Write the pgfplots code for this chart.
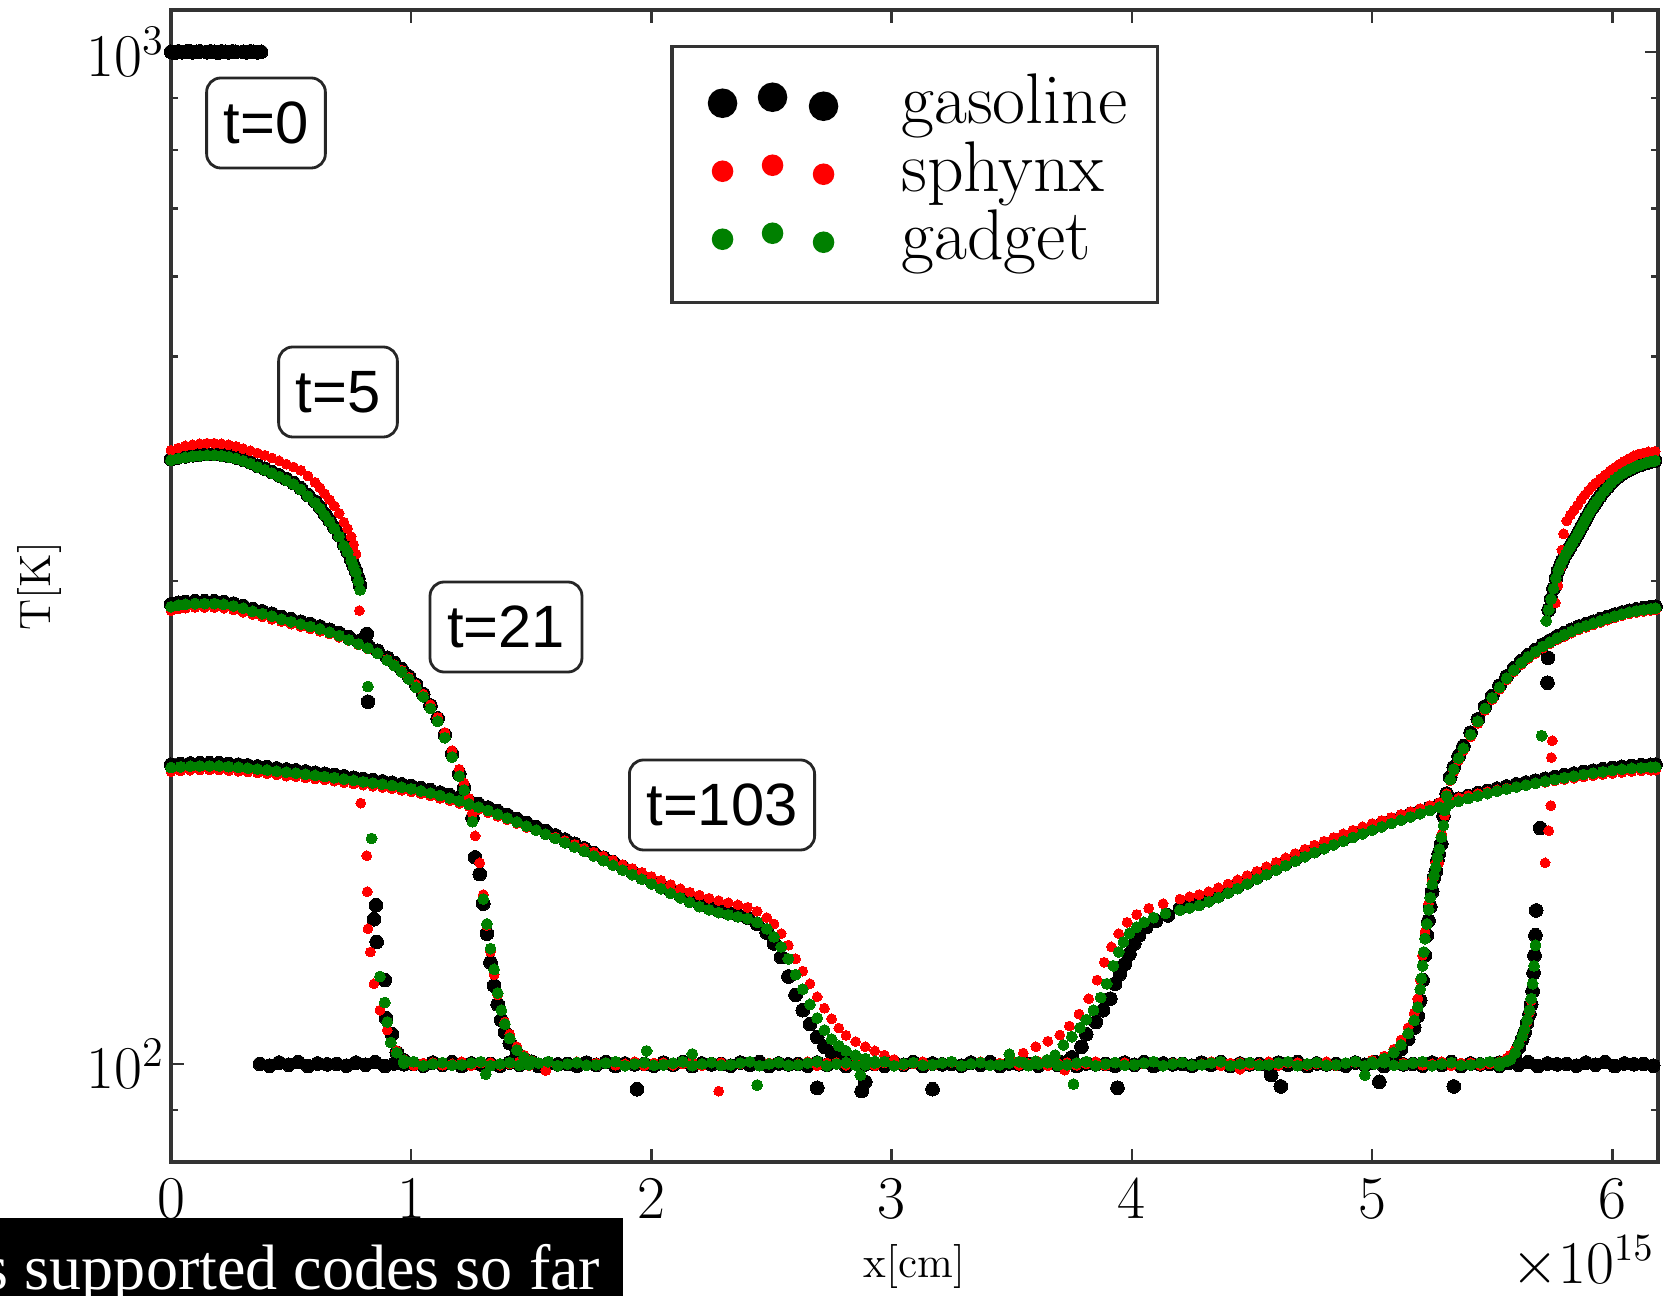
\documentclass[border=0pt]{standalone}
\usepackage{fontspec}
\newfontfamily\lsans{Liberation Sans}
\newfontfamily\lserif{Liberation Serif}
\usepackage{pgfplots}
\pgfplotsset{compat=1.18}
\usepackage{pgfplotstable}

\definecolor{mplgreen}{HTML}{008000}
\definecolor{mplred}{HTML}{FF0000}

\pgfplotsset{
  gasstyle/.style={only marks, mark=*, mark size=1.95pt, color=black, mark options={line width=0pt}},
  sphstyle/.style={only marks, mark=*, mark size=1.4pt, color=mplred, mark options={line width=0pt}},
  gadstyle/.style={only marks, mark=*, mark size=1.55pt, color=mplgreen, mark options={line width=0pt}},
}

% t=5, left front
\pgfplotstableread{
x gas sph gad
0.00 396.0 404.0 395.0
0.03 397.5 406.0 396.5
0.06 398.5 408.0 397.5
0.09 399.5 409.0 398.5
0.12 400.0 410.0 399.0
0.15 400.5 410.5 399.5
0.18 400.5 410.5 399.5
0.21 400.0 410.0 399.0
0.24 399.0 409.0 398.0
0.27 397.5 407.5 396.5
0.30 395.5 405.5 394.5
0.33 393.0 403.5 392.0
0.36 390.0 401.5 389.0
0.39 387.5 399.5 386.5
0.42 384.5 397.0 383.5
0.45 381.5 394.5 380.5
0.48 378.5 391.5 377.5
0.51 375.0 389.0 374.0
0.54 370.5 386.0 369.5
0.57 365.0 381.0 364.0
0.60 359.5 375.5 358.5
0.62 355.0 371.0 354.0
0.64 349.5 366.0 348.5
0.66 344.5 361.0 343.5
0.68 339.0 356.0 338.0
0.70 333.0 350.0 332.0
0.72 326.0 343.0 325.0
0.735 321.0 338.0 320.5
0.75 315.0 332.0 314.5
0.76 311.0 326.0 310.0
0.77 307.0 319.0 306.0
0.78 302.0 nan 300.0
0.787 297.0 nan 294.0
0.784 nan 280.5 nan
0.79 nan 181.0 nan
0.815 266.0 160.6 nan
0.817 nan 148.0 nan
0.82 228.0 136.0 236.0
0.83 nan 129.0 nan
0.835 nan nan 167.0
0.845 139.0 120.0 nan
0.853 143.5 nan nan
0.856 132.0 nan nan
0.87 nan 113.0 122.0
0.89 121.0 nan 115.0
0.895 111.0 nan nan
0.90 nan 108.0 110.0
0.915 nan nan 105.0
0.92 107.0 nan nan
0.94 102.6 103.0 102.6
0.97 100.8 101.0 100.8
}\tfiveL

% t=21, left front
\pgfplotstableread{
x gas sph gad
0.00 284.5 280.5 283.0
0.03 285.5 281.5 284.0
0.06 286.0 282.0 284.5
0.10 286.5 282.5 285.0
0.14 286.5 282.5 285.0
0.18 286.5 282.5 285.0
0.22 286.0 282.0 284.5
0.26 285.0 281.0 283.5
0.30 283.5 279.5 282.0
0.34 281.5 278.0 280.0
0.38 280.0 276.5 278.5
0.42 278.5 275.0 277.0
0.46 276.5 273.5 275.0
0.50 275.0 272.0 273.5
0.54 273.5 270.5 272.0
0.58 272.0 269.0 270.5
0.62 270.5 267.5 269.0
0.66 268.5 266.0 267.0
0.70 266.5 264.0 265.0
0.74 264.0 262.0 262.5
0.78 261.5 259.5 260.0
0.82 259.0 257.0 257.5
0.86 256.0 254.5 254.5
0.90 252.0 251.0 250.5
0.93 249.0 248.0 247.5
0.96 245.5 245.0 244.0
0.99 241.5 241.0 240.0
1.02 237.0 237.0 235.5
1.05 232.0 232.0 230.5
1.08 226.0 226.5 224.5
1.11 219.5 220.0 218.0
1.14 211.5 212.5 210.0
1.17 202.5 204.0 201.0
1.20 193.5 195.5 192.5
1.22 187.5 189.5 186.5
1.24 181.5 183.0 180.5
1.255 175.0 177.0 173.5
1.266 160.0 168.0 nan
1.285 154.0 158.0 nan
1.30 144.0 147.0 145.5
1.315 134.5 137.0 137.5
1.33 126.0 129.0 130.0
1.345 119.5 122.5 124.0
1.36 114.5 117.0 117.5
1.375 110.5 113.0 113.0
1.39 107.5 110.0 109.5
1.41 104.8 107.0 106.0
1.44 102.5 104.0 103.2
1.47 101.2 102.0 101.5
1.50 100.5 100.8 100.6
}\ttwentyoneL

% t=103, left front
\pgfplotstableread{
x gas sph gad
0.00 197.5 194.5 196.3
0.04 197.8 194.8 196.6
0.08 198.1 195.1 196.9
0.12 198.2 195.2 197.0
0.16 198.2 195.2 197.0
0.20 198.2 195.2 197.0
0.24 197.9 194.9 196.7
0.28 197.6 194.6 196.4
0.32 197.2 194.3 196.0
0.36 196.8 193.9 195.6
0.40 196.4 193.5 195.2
0.44 195.9 193.0 194.7
0.48 195.4 192.5 194.2
0.52 195.0 192.2 193.8
0.56 194.5 191.7 193.3
0.60 194.0 191.2 192.8
0.64 193.5 190.8 192.3
0.68 193.0 190.3 191.8
0.72 192.4 189.7 191.2
0.76 191.8 189.1 190.6
0.80 191.2 188.6 190.0
0.84 190.7 188.1 189.5
0.88 190.2 187.6 189.0
0.92 189.6 187.0 188.4
0.96 188.9 186.4 187.7
1.00 188.2 185.7 187.0
1.04 187.3 184.9 186.1
1.08 186.4 184.0 185.2
1.12 185.4 183.0 184.2
1.16 184.3 182.0 183.1
1.20 183.2 180.9 182.0
1.24 181.9 179.7 180.7
1.28 180.6 178.4 179.4
1.32 179.2 177.1 178.0
1.36 177.7 175.7 176.5
1.40 176.2 174.3 175.0
1.44 174.6 172.8 173.4
1.48 173.0 171.3 171.8
1.52 171.4 170.0 170.2
1.56 169.8 168.8 168.6
1.60 168.2 167.5 167.0
1.64 166.6 166.2 165.4
1.68 165.0 164.8 163.8
1.72 163.3 163.4 162.2
1.76 161.6 161.9 160.5
1.80 159.9 160.4 158.8
1.84 158.2 158.9 157.1
1.88 156.5 157.4 155.4
1.92 154.8 156.0 153.8
1.96 153.2 154.6 152.2
2.00 151.6 153.2 150.6
2.04 150.0 151.8 149.0
2.08 148.4 150.4 147.4
2.12 146.9 149.0 145.9
2.16 145.3 147.8 144.4
2.20 143.9 146.8 143.0
2.24 142.8 145.8 142.0
2.28 141.9 145.0 141.1
2.32 141.0 144.3 140.4
2.36 140.3 143.6 139.8
2.40 139.5 142.8 139.2
2.44 137.5 141.5 138.0
2.48 134.8 139.5 136.0
2.51 131.5 137.5 133.5
2.54 127.5 134.5 130.5
2.57 122.0 131.0 127.0
2.60 117.0 127.0 122.5
2.63 113.0 123.5 118.5
2.66 109.5 120.0 114.5
2.69 106.3 116.5 111.0
2.72 104.0 113.5 108.0
2.75 102.6 110.8 105.8
2.78 101.8 108.5 104.2
2.81 101.2 106.7 103.0
2.85 100.6 105.2 102.0
2.89 100.3 104.0 101.2
2.93 nan 103.0 100.6
2.97 nan 102.0 nan
3.01 nan 101.0 nan
}\tonethreeL

% t=103, right front
\pgfplotstableread{
x gas sph gad
3.55 nan nan 100.3
3.60 nan nan 100.6
3.646 nan nan 100.9
3.68 nan nan 102.0
3.715 nan nan 104.4
3.75 nan nan 106.4
3.784 nan nan 108.6
3.81 nan nan 110.6
3.84 nan nan 113.0
3.87 nan nan 116.3
3.895 nan nan 120.0
3.923 nan nan 125.0
3.945 nan nan 129.0
3.965 nan nan 132.0
3.99 nan nan 134.6
4.02 nan nan 136.5
4.05 nan nan 138.0
4.09 nan nan 139.5
4.14 nan nan 140.8
3.50 nan 100.6 nan
3.548 nan 102.5 nan
3.60 nan 104.0 nan
3.65 nan 105.3 nan
3.70 nan 106.8 nan
3.74 nan 109.0 nan
3.78 nan 112.0 nan
3.82 nan 116.0 nan
3.855 nan 121.0 nan
3.885 nan 126.0 nan
3.915 nan 130.5 nan
3.945 nan 134.5 nan
3.98 nan 138.0 nan
4.02 nan 140.5 nan
4.07 nan 142.5 nan
4.13 nan 144.0 nan
3.70 100.4 nan nan
3.75 101.5 nan nan
3.79 104.0 nan nan
3.81 107.0 nan nan
3.85 110.0 nan nan
3.88 113.0 nan nan
3.91 116.0 nan nan
3.93 120.0 nan nan
3.95 122.7 nan nan
3.97 125.5 nan nan
3.99 128.4 nan nan
4.01 131.5 nan nan
4.03 134.0 nan nan
4.06 136.5 nan nan
4.10 138.5 nan nan
4.15 140.2 nan nan
4.20 142.5 145.5 141.9
4.24 143.3 146.3 142.6
4.28 144.2 147.0 143.4
4.32 145.4 148.0 144.6
4.36 146.8 149.3 146.0
4.40 148.3 150.6 147.5
4.44 149.8 152.0 149.0
4.48 151.4 153.5 150.6
4.52 153.0 155.0 152.2
4.56 154.7 156.6 153.8
4.60 156.3 158.2 155.4
4.64 157.9 159.8 157.0
4.68 159.5 161.4 158.6
4.72 161.1 163.0 160.2
4.76 162.6 164.5 161.7
4.80 164.1 166.0 163.2
4.84 165.5 167.4 164.6
4.88 167.0 168.8 166.0
4.92 168.4 170.2 167.4
4.96 169.8 171.5 168.8
5.00 171.2 172.8 170.2
5.04 172.5 174.0 171.5
5.08 173.8 175.2 172.8
5.12 175.1 176.4 174.1
5.16 176.5 177.6 175.4
5.20 177.8 178.8 176.7
5.24 179.1 180.0 178.0
5.28 180.4 181.2 179.3
5.32 181.6 182.2 180.5
5.36 182.8 183.2 181.7
5.40 184.0 184.2 182.9
5.44 185.1 185.0 184.0
5.48 186.1 185.8 185.0
5.52 187.1 186.6 186.0
5.56 188.0 187.3 186.9
5.60 188.9 188.0 187.8
5.64 189.7 188.6 188.6
5.68 190.5 189.2 189.4
5.72 191.3 189.8 190.2
5.76 192.1 190.4 191.0
5.80 192.9 191.0 191.8
5.84 193.6 191.6 192.5
5.88 194.3 192.2 193.2
5.92 194.9 192.7 193.8
5.96 195.5 193.2 194.4
6.00 196.1 193.7 195.0
6.04 196.6 194.1 195.5
6.08 197.0 194.5 195.9
6.12 197.3 194.8 196.2
6.16 197.5 195.0 196.4
6.18 197.6 195.1 196.5
}\tonethreeR

% t=21, right front
\pgfplotstableread{
x gas sph gad
5.00 100.2 100.8 100.4
5.05 100.8 101.8 101.2
5.09 101.8 103.4 102.6
5.12 103.4 105.6 104.4
5.15 105.8 108.6 107.2
5.175 108.6 112.2 110.4
5.19 111.5 116.0 113.8
5.20 115.5 121.0 118.5
5.205 nan nan 121.5
5.21 121.0 128.0 125.0
5.215 nan nan 129.0
5.22 128.0 135.0 133.0
5.228 134.0 nan 137.5
5.235 138.5 144.0 142.0
5.242 143.0 nan 146.0
5.25 148.0 152.0 150.5
5.258 152.8 nan 153.5
5.265 155.0 158.0 156.5
5.272 159.0 nan 160.0
5.277 161.3 158.0 nan
5.28 nan nan 163.0
5.288 165.0 nan 167.5
5.29 nan 168.7 nan
5.297 175.8 nan 172.0
5.302 nan 176.0 178.0
5.31 185.0 185.0 184.0
5.325 192.0 190.5 191.0
5.34 196.5 194.5 195.5
5.36 201.5 199.5 200.5
5.38 206.0 204.0 205.0
5.41 212.5 210.5 211.5
5.44 219.0 217.0 218.0
5.47 225.5 223.5 224.5
5.50 231.0 229.0 230.0
5.53 236.5 234.5 235.5
5.56 241.5 239.5 240.5
5.59 246.0 244.0 245.0
5.62 250.0 248.0 249.0
5.65 253.5 251.5 252.5
5.68 256.5 254.5 255.5
5.71 259.5 257.5 258.5
5.74 262.0 260.0 261.0
5.77 264.5 262.5 263.5
5.80 266.5 264.5 265.5
5.83 268.5 266.5 267.5
5.86 270.5 268.5 269.5
5.89 272.0 270.0 271.0
5.92 273.5 271.5 272.5
5.95 275.0 273.0 274.0
5.98 276.5 274.5 275.5
6.01 278.0 276.0 277.0
6.04 279.3 277.3 278.3
6.07 280.4 278.4 279.4
6.10 281.3 279.3 280.3
6.13 282.0 280.0 281.0
6.16 282.6 280.6 281.6
6.18 283.0 281.0 282.0
}\ttwentyoneR

% t=5, right front
\pgfplotstableread{
x gas sph gad
5.53 100.3 100.5 100.3
5.56 100.5 101.3 100.6
5.575 100.9 102.0 101.0
5.595 102.0 103.2 102.5
5.61 103.8 104.6 104.6
5.625 105.8 106.3 106.5
5.635 107.5 108.0 108.2
5.645 109.8 110.0 110.5
5.655 112.0 112.5 113.0
5.662 114.5 115.5 116.0
5.668 118.0 nan 120.0
5.672 123.0 nan nan
5.674 nan nan 125.0
5.676 128.0 nan nan
5.68 134.0 nan 131.0
5.683 141.8 nan nan
5.70 171.0 nan nan
5.706 nan nan 211.0
5.72 nan 158.0 nan
5.735 nan 170.0 nan
5.744 nan 180.0 nan
5.746 nan 200.8 nan
5.75 nan 208.6 nan
5.73 238.0 nan nan
5.732 252.0 nan nan
5.725 nan nan 274.0
5.735 281.0 nan 281.0
5.745 288.0 nan 288.0
5.755 295.0 nan 295.0
5.765 302.0 nan 302.0
5.775 307.5 nan 307.5
5.785 311.5 nan 311.5
5.795 315.0 nan 315.0
5.805 318.5 nan 318.5
5.815 321.5 nan 321.5
5.825 324.5 nan 324.5
5.835 327.5 nan 327.5
5.845 330.5 nan 330.5
5.855 333.5 nan 333.5
5.865 337.0 nan 337.0
5.875 340.5 nan 340.5
5.885 344.0 nan 344.0
5.895 347.5 nan 347.5
5.905 351.0 nan 351.0
5.915 354.0 nan 354.0
5.925 357.0 nan 357.0
5.935 360.0 nan 360.0
5.95 364.0 nan 364.0
5.965 368.0 nan 368.0
5.98 371.5 nan 371.5
5.995 375.0 nan 375.0
6.01 378.0 nan 378.0
6.025 380.5 nan 380.5
6.04 383.0 nan 383.0
6.06 385.5 nan 385.5
6.08 387.5 nan 387.5
6.10 389.5 nan 389.5
6.12 391.0 nan 391.0
6.14 392.5 nan 392.5
6.16 393.8 nan 393.8
6.178 394.6 nan 394.6
5.763 nan 285.5 nan
5.773 nan 297.0 nan
5.783 nan 309.0 nan
5.79 nan 322.0 nan
5.797 nan 334.0 nan
5.81 nan 344.0 nan
5.825 nan 348.5 nan
5.84 nan 352.5 nan
5.855 nan 356.5 nan
5.87 nan 361.0 nan
5.885 nan 365.0 nan
5.90 nan 368.5 nan
5.915 nan 372.0 nan
5.93 nan 375.0 nan
5.95 nan 378.5 nan
5.97 nan 382.0 nan
5.99 nan 385.5 nan
6.01 nan 388.5 nan
6.03 nan 391.5 nan
6.05 nan 394.0 nan
6.07 nan 396.5 nan
6.09 nan 399.0 nan
6.11 nan 400.5 nan
6.13 nan 401.5 nan
6.15 nan 402.5 nan
6.178 nan 403.0 nan
}\tfiveR

% cold medium at 100 K
\pgfplotstableread{
x gas sph gad
0.37 100.0 nan nan
0.41 99.6 nan nan
0.45 100.3 nan nan
0.49 99.8 nan nan
0.53 100.4 nan nan
0.57 99.5 nan nan
0.61 100.1 nan nan
0.65 99.9 nan nan
0.69 100.0 nan nan
0.73 99.6 nan nan
0.77 100.3 nan nan
0.81 99.8 nan nan
0.85 100.4 nan nan
0.89 99.5 nan nan
0.93 100.1 nan nan
0.97 99.9 100.5 100.2
1.01 100.0 99.6 100.5
1.05 99.6 100.2 99.6
1.09 100.3 100.3 100.0
1.13 99.8 99.7 100.3
1.17 100.4 100.0 99.7
1.21 99.5 100.5 99.8
1.25 100.1 99.6 100.2
1.29 99.9 100.2 100.5
1.33 100.0 100.3 99.6
1.37 99.6 99.7 100.0
1.41 100.3 100.0 100.3
1.45 99.8 100.5 99.7
1.49 100.4 99.6 99.8
1.53 99.5 100.2 100.2
1.57 100.1 100.3 100.5
1.61 99.9 99.7 99.6
1.65 100.0 100.0 100.0
1.69 99.6 100.5 100.3
1.73 100.3 99.6 99.7
1.77 99.8 100.2 99.8
1.81 100.4 100.3 100.2
1.85 99.5 99.7 100.5
1.89 100.1 100.0 99.6
1.93 99.9 100.5 100.0
1.97 100.0 99.6 100.3
2.01 99.6 100.2 99.7
2.05 100.3 100.3 99.8
2.09 99.8 99.7 100.2
2.13 100.4 100.0 100.5
2.17 99.5 100.5 99.6
2.21 100.1 99.6 100.0
2.25 99.9 100.2 100.3
2.29 100.0 100.3 99.7
2.33 99.6 99.7 99.8
2.37 100.3 100.0 100.2
2.41 99.8 100.5 100.5
2.45 100.4 99.6 99.6
2.49 99.5 100.2 100.0
2.53 100.1 100.3 100.3
2.57 99.9 99.7 99.7
2.61 100.0 100.0 99.8
2.65 99.6 100.5 100.2
2.69 100.3 99.6 100.5
2.73 99.8 100.2 99.6
2.77 100.4 100.3 100.0
2.81 99.5 99.7 100.3
2.85 100.1 100.0 99.7
2.89 99.9 100.5 99.8
2.93 100.0 99.6 100.2
2.97 99.6 100.2 100.5
3.01 100.3 100.3 99.6
3.05 99.8 99.7 100.0
3.09 100.4 100.0 100.3
3.13 99.5 100.5 99.7
3.17 100.1 99.6 99.8
3.21 99.9 100.2 100.2
3.25 100.0 100.3 100.5
3.29 99.6 99.7 99.6
3.33 100.3 100.0 100.0
3.37 99.8 100.5 100.3
3.41 100.4 99.6 99.7
3.45 99.5 100.2 99.8
3.49 100.1 100.3 100.2
3.53 99.9 99.7 100.5
3.57 100.0 100.0 99.6
3.61 99.6 100.5 100.0
3.65 100.3 99.6 100.3
3.69 99.8 100.2 99.7
3.73 100.4 100.3 99.8
3.77 99.5 99.7 100.2
3.81 100.1 100.0 100.5
3.85 99.9 100.5 99.6
3.89 100.0 99.6 100.0
3.93 99.6 100.2 100.3
3.97 100.3 100.3 99.7
4.01 99.8 99.7 99.8
4.05 100.4 100.0 100.2
4.09 99.5 100.5 100.5
4.13 100.1 99.6 99.6
4.17 99.9 100.2 100.0
4.21 100.0 100.3 100.3
4.25 99.6 99.7 99.7
4.29 100.3 100.0 99.8
4.33 99.8 100.5 100.2
4.37 100.4 99.6 100.5
4.41 99.5 100.2 99.6
4.45 100.1 100.3 100.0
4.49 99.9 99.7 100.3
4.53 100.0 100.0 99.7
4.57 99.6 100.5 99.8
4.61 100.3 99.6 100.2
4.65 99.8 100.2 100.5
4.69 100.4 100.3 99.6
4.73 99.5 99.7 100.0
4.77 100.1 100.0 100.3
4.81 99.9 100.5 99.7
4.85 100.0 99.6 99.8
4.89 99.6 100.2 100.2
4.93 100.3 100.3 100.5
4.97 99.8 99.7 99.6
5.01 100.4 100.0 100.0
5.05 99.5 100.5 100.3
5.09 100.1 99.6 99.7
5.13 99.9 100.2 99.8
5.17 100.0 100.3 100.2
5.21 99.6 99.7 100.5
5.25 100.3 100.0 99.6
5.29 99.8 100.5 100.0
5.33 100.4 99.6 100.3
5.37 99.5 100.2 99.7
5.41 100.1 100.3 99.8
5.45 99.9 99.7 100.2
5.49 100.0 100.0 100.5
5.53 99.6 100.5 99.6
5.57 100.3 nan nan
5.61 99.8 nan nan
5.65 100.4 nan nan
5.69 99.5 nan nan
5.73 100.1 nan nan
5.77 99.9 nan nan
5.81 100.0 nan nan
5.85 99.6 nan nan
5.89 100.3 nan nan
5.93 99.8 nan nan
5.97 100.4 nan nan
6.01 99.5 nan nan
6.05 100.1 nan nan
6.09 99.9 nan nan
6.13 100.0 nan nan
6.17 99.6 nan nan
}\tflat

% scattered particles off the 100 K line
\pgfplotstableread{
x gas sph gad
1.31 nan nan 97.7
1.56 nan 98.5 nan
1.94 94.4 nan nan
1.98 nan nan 103.0
2.17 nan nan 102.3
2.28 nan 94.0 nan
2.44 nan nan 95.3
2.69 94.7 nan nan
2.87 nan nan 97.5
2.875 94.0 nan nan
2.89 96.0 nan nan
3.17 94.4 nan nan
3.49 nan nan 102.2
3.72 nan 98.6 nan
3.757 nan nan 95.5
3.94 94.7 nan nan
4.45 nan 98.8 nan
4.58 97.5 nan nan
4.62 95.0 nan nan
4.97 nan nan 97.5
5.03 96.0 nan nan
5.34 95.0 nan nan
}\tout

\begin{document}
\begin{tikzpicture}
\useasboundingbox (-1.71,-1.34) rectangle (14.97,11.62);
\begin{axis}[
  at={(0,0)}, anchor=south west, scale only axis,
  width=14.87cm, height=11.52cm,
  xmin=0, xmax=6.19, ymin=80, ymax=1100, ymode=log,
  xtick={0,1,2,3,4,5,6}, ytick={100,1000},
  minor ytick={90,200,300,400,500,600,700,800,900},
  tick align=inside,
  major tick length=0.13cm, minor tick length=0.07cm,
  every tick/.style={black!80, line width=0.7pt},
  axis line style={black!80, line width=1pt},
  ticklabel style={font=\fontsize{17}{20}\selectfont},
  xticklabel style={yshift=-0.045cm},
  yticklabel style={xshift=0.06cm},
  xlabel={x[cm]}, ylabel={T[K]},
  every axis x label/.style={at={(axis description cs:0.5,-0.1007)}, anchor=base, font=\fontsize{12.5}{15}\selectfont},
  every axis y label/.style={at={(axis description cs:-0.0807,0.5)}, rotate=90, anchor=base, font=\fontsize{12.5}{15}\selectfont},
  legend cell align=left,
  legend style={at={(rel axis cs:0.3356,0.9696)}, anchor=north west,
    draw=black!80, line width=1pt, inner xsep=0.23cm, inner ysep=0.26cm,
    column sep=0pt, row sep=0pt, font=\fontsize{20.4}{24}\selectfont,
    nodes={inner xsep=0.07cm, inner ysep=0.035cm, text height=0.47cm, text depth=0.14cm}},
]
% gasoline
\addplot[gasstyle, legend image code/.code={
    \path (-0.26cm,0cm) (1.70cm,0cm);
    \fill (0cm,0.035cm) circle (0.13cm);
    \fill (0.5cm,0.095cm) circle (0.13cm);
    \fill (1.01cm,0.005cm) circle (0.13cm);}]
  coordinates {(0.000,1000) (0.015,998) (0.030,1001) (0.045,999) (0.060,1000) (0.075,1002) (0.090,999) (0.105,1000) (0.120,1001)
  (0.150,999) (0.165,1001) (0.180,1000) (0.195,998) (0.210,1001) (0.225,1000) (0.240,999) (0.255,1001) (0.270,1000)
  (0.300,1000) (0.315,999) (0.330,1001) (0.345,1000) (0.360,999) (0.375,1000)};
\addlegendentry{gasoline}
\addplot[gasstyle, forget plot] table[x=x, y=gas] {\tflat};
\addplot[gasstyle, forget plot] table[x=x, y=gas] {\tout};
\addplot[gasstyle, forget plot] table[x=x, y=gas] {\tfiveL};
\addplot[gasstyle, forget plot] table[x=x, y=gas] {\ttwentyoneL};
\addplot[gasstyle, forget plot] table[x=x, y=gas] {\tonethreeL};
\addplot[gasstyle, forget plot] table[x=x, y=gas] {\tonethreeR};
\addplot[gasstyle, forget plot] table[x=x, y=gas] {\ttwentyoneR};
\addplot[gasstyle, forget plot] table[x=x, y=gas] {\tfiveR};
% sphynx
\addplot[sphstyle, legend image code/.code={
    \path (-0.26cm,0cm) (1.70cm,0cm);
    \fill (0cm,0.035cm) circle (0.09cm);
    \fill (0.5cm,0.095cm) circle (0.09cm);
    \fill (1.01cm,0.005cm) circle (0.09cm);}]
  table[x=x, y=sph] {\tflat};
\addlegendentry{sphynx}
\addplot[sphstyle, forget plot] table[x=x, y=sph] {\tout};
\addplot[sphstyle, forget plot] table[x=x, y=sph] {\tfiveL};
\addplot[sphstyle, forget plot] table[x=x, y=sph] {\ttwentyoneL};
\addplot[sphstyle, forget plot] table[x=x, y=sph] {\tonethreeL};
\addplot[sphstyle, forget plot] table[x=x, y=sph] {\tonethreeR};
\addplot[sphstyle, forget plot] table[x=x, y=sph] {\ttwentyoneR};
\addplot[sphstyle, forget plot] table[x=x, y=sph] {\tfiveR};
% gadget
\addplot[gadstyle, legend image code/.code={
    \path (-0.26cm,0cm) (1.70cm,0cm);
    \fill (0cm,0.035cm) circle (0.09cm);
    \fill (0.5cm,0.095cm) circle (0.09cm);
    \fill (1.01cm,0.005cm) circle (0.09cm);}]
  table[x=x, y=gad] {\tflat};
\addlegendentry{gadget}
\addplot[gadstyle, forget plot] table[x=x, y=gad] {\tout};
\addplot[gadstyle, forget plot] table[x=x, y=gad] {\tfiveL};
\addplot[gadstyle, forget plot] table[x=x, y=gad] {\ttwentyoneL};
\addplot[gadstyle, forget plot] table[x=x, y=gad] {\tonethreeL};
\addplot[gadstyle, forget plot] table[x=x, y=gad] {\tonethreeR};
\addplot[gadstyle, forget plot] table[x=x, y=gad] {\ttwentyoneR};
\addplot[gadstyle, forget plot] table[x=x, y=gad] {\tfiveR};
\end{axis}

% time labels
\tikzset{tlab/.style={draw=black!85, line width=0.8pt, rounded corners=0.14cm,
  font=\lsans\fontsize{17}{20}\selectfont, inner xsep=0.17cm, minimum height=0.9cm}}
\node[tlab] at (0.95,10.39) {t=0};
\node[tlab] at (1.67,7.70) {t=5};
\node[tlab] at (3.35,5.35) {t=21};
\node[tlab] at (5.51,3.57) {t=103};

\node[anchor=base east, inner sep=0pt, font=\fontsize{16}{19}\selectfont] at (14.84,-1.21) {$\times10^{15}$};

% caption strip over the lower left corner
\fill[black] (-1.71,-1.34) rectangle (4.52,-0.56);
\begin{scope}
  \clip (-1.71,-1.34) rectangle (4.52,-0.56);
  \node[anchor=base east, text=white, inner sep=0pt, font=\lserif\fontsize{18.25}{22}\selectfont] at (4.30,-1.27) {s supported codes so far};
\end{scope}
\end{tikzpicture}
\end{document}
